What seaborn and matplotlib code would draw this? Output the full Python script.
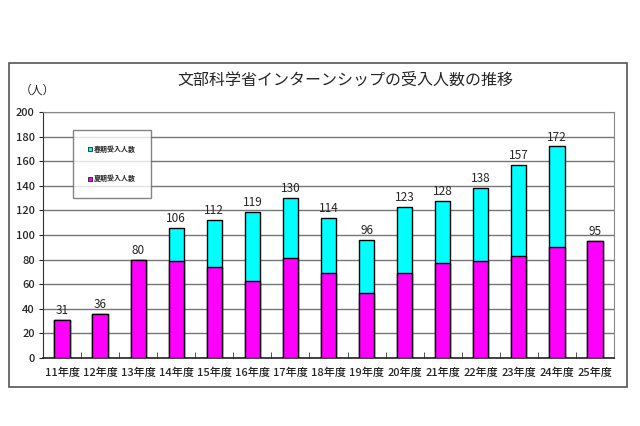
import numpy as np
import pandas as pd
import matplotlib
matplotlib.use("Agg")
import matplotlib.pyplot as plt
import seaborn as sns
from matplotlib.patches import Patch, Rectangle

# data
years = ["11年度", "12年度", "13年度", "14年度", "15年度", "16年度", "17年度", "18年度",
         "19年度", "20年度", "21年度", "22年度", "23年度", "24年度", "25年度"]
totals = [31, 36, 80, 106, 112, 119, 130, 114, 96, 123, 128, 138, 157, 172, 95]
summer = [31, 36, 80, 79, 74, 63, 81, 69, 53, 69, 77, 79, 83, 90, 95]
spring = [t - s for t, s in zip(totals, summer)]

title = "文部科学省インターンシップの受入人数の推移"
unit_label = "（人）"
spring_label = "春期受入人数"
summer_label = "夏期受入人数"

df = pd.DataFrame({"year": years, "total": totals, "summer": summer, "spring": spring})

sns.set_style("white")
plt.rcParams["font.family"] = ["Noto Sans CJK JP", "DejaVu Sans"]

W, H = 640, 426
fig = plt.figure(figsize=(6.4, 4.26), dpi=100)
fig.patch.set_facecolor("white")

# outer frame
fig.patches.append(Rectangle((9 / W, 1 - 387 / H), (627 - 9) / W, (387 - 63) / H,
                             transform=fig.transFigure, fill=False,
                             edgecolor="#555555", lw=1.2, zorder=0))

ax = fig.add_axes([43 / W, 1 - 358 / H, (614 - 43) / W, (358 - 112) / H])

cyan = "#00FFFF"
magenta = "#FF00FF"

# spring stacked on top of summer: draw totals in cyan, then summer over it
sns.barplot(data=df, x="year", y="total", color=cyan, width=0.4,
            edgecolor="black", linewidth=1, saturation=1, ax=ax, zorder=3)
sns.barplot(data=df, x="year", y="summer", color=magenta, width=0.4,
            edgecolor="black", linewidth=1, saturation=1, ax=ax, zorder=3)

ax.bar_label(ax.containers[0], labels=[str(t) for t in totals],
             padding=2, fontsize=8.5)

ax.set_ylim(0, 200)
ax.set_yticks(np.arange(0, 201, 20))
ax.set_xlim(-0.5, len(years) - 0.5)
ax.yaxis.grid(True, color="#777777", lw=1)
ax.set_axisbelow(True)
ax.set_xlabel("")
ax.set_ylabel("")
ax.tick_params(axis="x", length=0, labelsize=8, pad=7)
ax.tick_params(axis="y", length=3, labelsize=8, left=True, pad=3)
for lab in ax.get_xticklabels() + ax.get_yticklabels():
    lab.set_fontweight("medium")

# small category separators on the baseline
ax.set_xticks(np.arange(0.5, len(years) - 0.5), minor=True)
ax.tick_params(axis="x", which="minor", direction="in", length=4, bottom=True, color="#333333")

for side in ["top", "right"]:
    ax.spines[side].set_color("#888888")
ax.spines["left"].set_color("#333333")
ax.spines["bottom"].set_color("#222222")
ax.spines["bottom"].set_linewidth(1.2)

fig.text(345 / W, 1 - 80 / H, title, ha="center", va="center", fontsize=11.5)
fig.text(37 / W, 1 - 90 / H, unit_label, ha="center", va="center", fontsize=8.5)

handles = [Patch(facecolor=cyan, edgecolor="black", lw=0.5, label=spring_label),
           Patch(facecolor=magenta, edgecolor="black", lw=0.5, label=summer_label)]
leg = ax.legend(handles=handles, loc="upper left", bbox_to_anchor=(0.0525, 0.927),
                fontsize=5, frameon=True, fancybox=False, edgecolor="#666666",
                handlelength=0.6, handleheight=0.6, handletextpad=0.2,
                labelspacing=3.2, borderpad=2.2, borderaxespad=0)
leg.get_frame().set_linewidth(1)
for t in leg.get_texts():
    t.set_fontweight("bold")

fig.savefig("out.png", dpi=100, facecolor="white")
